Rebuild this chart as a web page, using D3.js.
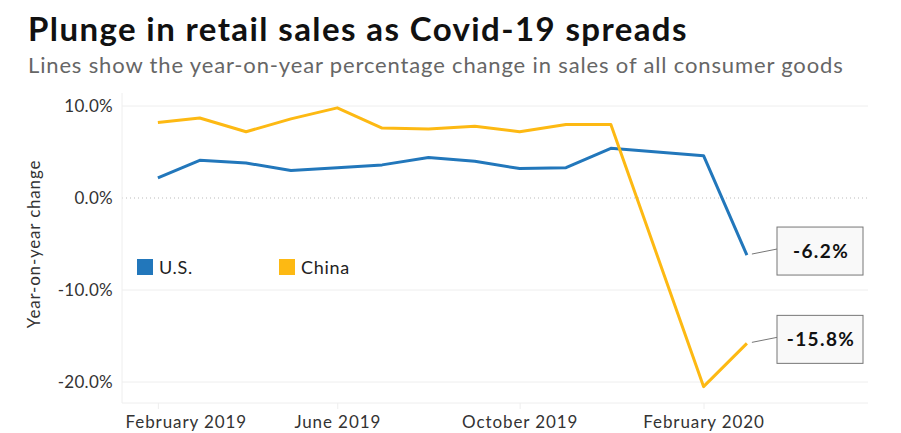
<!DOCTYPE html>
<html>
<head>
<meta charset="utf-8">
<script src="https://cdn.jsdelivr.net/npm/d3@7"></script>
<style>
  body { margin: 0; background: #fff; }
  svg { display: block; font-family: Lato, "Open Sans", sans-serif; }
</style>
</head>
<body>
<svg id="chart" width="901" height="433"></svg>
<script>
// data (year-on-year % change)
const usMonths = ["2019-02", "2019-03", "2019-04", "2019-05", "2019-06", "2019-07", "2019-08",
  "2019-09", "2019-10", "2019-11", "2019-12", "2020-02", "2020-03"];
const usValues = [2.2, 4.1, 3.8, 3.0, 3.3, 3.6, 4.4, 4.0, 3.2, 3.3, 5.4, 4.6, -6.2];

const chinaMonths = ["2019-02", "2019-03", "2019-04", "2019-05", "2019-06", "2019-07", "2019-08",
  "2019-09", "2019-10", "2019-11", "2019-12", "2020-02", "2020-03"];
const chinaValues = [8.2, 8.7, 7.2, 8.6, 9.8, 7.6, 7.5, 7.8, 7.2, 8.0, 8.0, -20.5, -15.8];

const yTicks = [10, 0, -10, -20];
const xTicks = ["2019-02", "2019-06", "2019-10", "2020-02"];
const xTickLabels = ["February 2019", "June 2019", "October 2019", "February 2020"];

const seriesNames = ["U.S.", "China"];
const seriesColors = ["#2277bb", "#fdb913"];

const parse = d3.timeParse("%Y-%m");

const svg = d3.select("#chart");
const plot = { left: 122, right: 868, top: 93, bottom: 403 };

const x = d3.scaleTime()
  .domain([new Date(2019, 0, 8), new Date(2020, 4, 21)])
  .range([plot.left, plot.right]);

const y = d3.scaleLinear()
  .domain([-20, 10])
  .range([382, 106]);

// title + subtitle
svg.append("text")
  .attr("x", 28).attr("y", 41)
  .attr("font-size", 33).attr("font-weight", 700).attr("fill", "#111")
  .attr("letter-spacing", 1.4)
  .text("Plunge in retail sales as Covid-19 spreads");

svg.append("text")
  .attr("x", 28).attr("y", 73)
  .attr("font-size", 22).attr("fill", "#666")
  .attr("letter-spacing", 0.85)
  .text("Lines show the year-on-year percentage change in sales of all consumer goods");

// grid
svg.append("g")
  .selectAll("line")
  .data(yTicks)
  .join("line")
  .attr("x1", plot.left).attr("x2", plot.right)
  .attr("y1", d => y(d)).attr("y2", d => y(d))
  .attr("stroke", d => d === 0 ? "#bbb" : "#eee")
  .attr("stroke-width", 1)
  .attr("stroke-dasharray", d => d === 0 ? "1,3" : null);

// left + bottom axis lines
svg.append("line")
  .attr("x1", plot.left).attr("x2", plot.left)
  .attr("y1", plot.top).attr("y2", plot.bottom)
  .attr("stroke", "#eee");

const xAxis = d3.axisBottom(x)
  .tickValues(xTicks.map(parse))
  .tickSize(6)
  .tickFormat((d, i) => xTickLabels[i]);

const gx = svg.append("g")
  .attr("transform", `translate(0,${plot.bottom})`)
  .call(xAxis);
gx.select(".domain").attr("stroke", "#eee").attr("d", `M${plot.left},0H${plot.right}`);
gx.selectAll(".tick line").attr("stroke", "#eee");
gx.selectAll(".tick text")
  .attr("font-family", "Lato, sans-serif")
  .attr("font-size", 17).attr("fill", "#333")
  .attr("letter-spacing", 0.9)
  .attr("dy", null).attr("y", 25);
// first label is pushed inside the plot, like the original
gx.selectAll(".tick text").filter((d, i) => i === 0)
  .attr("text-anchor", "start")
  .attr("x", plot.left + 3 - x(parse(xTicks[0])));

const yAxis = d3.axisLeft(y)
  .tickValues(yTicks)
  .tickSize(0)
  .tickPadding(0)
  .tickFormat(d => d.toFixed(1) + "%");

const gy = svg.append("g")
  .attr("transform", `translate(113,0)`)
  .call(yAxis);
gy.select(".domain").remove();
gy.selectAll(".tick text")
  .attr("font-family", "Lato, sans-serif")
  .attr("font-size", 17).attr("fill", "#333")
  .attr("letter-spacing", 0.3);

svg.append("text")
  .attr("transform", `translate(40,244) rotate(-90)`)
  .attr("text-anchor", "middle")
  .attr("font-size", 17).attr("fill", "#333")
  .attr("letter-spacing", 0.8)
  .text("Year-on-year change");

// lines
const line = d3.line()
  .x(d => x(d.date))
  .y(d => y(d.value));

const series = [
  usMonths.map((m, i) => ({ date: parse(m), value: usValues[i] })),
  chinaMonths.map((m, i) => ({ date: parse(m), value: chinaValues[i] }))
];

svg.append("g")
  .selectAll("path")
  .data(series)
  .join("path")
  .attr("d", line)
  .attr("fill", "none")
  .attr("stroke", (d, i) => seriesColors[i])
  .attr("stroke-width", 3)
  .attr("stroke-linejoin", "round");

// end labels
series.forEach((s, i) => {
  const last = s[s.length - 1];
  const px = x(last.date), py = y(last.value);
  const bx = 777, by = py - 28, bw = 86, bh = 48;
  svg.append("line")
    .attr("x1", px + 5).attr("y1", py - 1)
    .attr("x2", bx).attr("y2", py - 6)
    .attr("stroke", "#777").attr("stroke-width", 1);
  svg.append("rect")
    .attr("x", bx).attr("y", by)
    .attr("width", bw).attr("height", bh)
    .attr("fill", "#f9f9f9").attr("stroke", "#777").attr("stroke-width", 1);
  svg.append("text")
    .attr("x", bx + bw / 2 + 1).attr("y", by + bh / 2 + 7)
    .attr("text-anchor", "middle")
    .attr("font-size", 19).attr("font-weight", 700).attr("fill", "#111")
    .attr("letter-spacing", 1.4)
    .text(last.value.toFixed(1) + "%");
});

// legend
const legend = svg.append("g")
  .selectAll("g")
  .data(seriesNames)
  .join("g")
  .attr("transform", (d, i) => `translate(${137 + i * 142},259)`);
legend.append("rect")
  .attr("width", 16).attr("height", 16)
  .attr("fill", (d, i) => seriesColors[i]);
legend.append("text")
  .attr("x", 22).attr("y", 15)
  .attr("font-size", 18).attr("fill", "#222")
  .attr("letter-spacing", 0.7)
  .text(d => d);
</script>
</body>
</html>
